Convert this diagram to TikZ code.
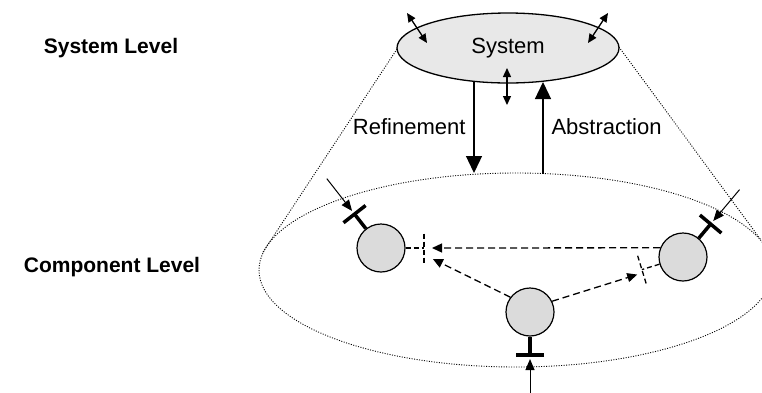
\documentclass[tikz,border=0pt]{standalone}
\usepackage{fontspec}
\setmainfont{Liberation Sans}
\usetikzlibrary{arrows.meta,shapes.geometric,calc}

\tikzset{
	sysnode/.style={ellipse, draw, line width=1.3pt, fill=gray!18, inner sep=0pt,
		minimum width=222pt, minimum height=70pt, font=\fontsize{22}{26}\selectfont},
	levelnode/.style={ellipse, draw, line width=0.9pt, dash pattern=on 1pt off 1.5pt,
		inner sep=0pt, minimum width=514pt, minimum height=194pt},
	comp/.style={circle, draw, line width=1.2pt, fill=gray!28, minimum size=48pt, inner sep=0pt},
	lbl/.style={font=\fontsize{22}{26}\selectfont},
	levellabel/.style={font=\fontsize{21}{25}\selectfont\bfseries},
	cone/.style={line width=0.9pt, dash pattern=on 1pt off 1.5pt},
	io/.style={{Triangle[length=9pt,width=8pt]}-{Triangle[length=9pt,width=8pt]}, line width=1.3pt},
	flow/.style={-{Triangle[length=17pt,width=16pt]}, line width=1.3pt},
	stem/.style={line width=3.5pt},
	inarr/.style={-{Triangle[length=11pt,width=9pt]}, line width=1pt},
	msg/.style={-{Triangle[length=10pt,width=9pt]}, line width=1.3pt, dash pattern=on 7pt off 4pt},
	rcv/.style={line width=1.3pt, dash pattern=on 5pt off 3pt},
}

\begin{document}
\begin{tikzpicture}[x=1pt, y=1pt]
	\clip (0,0) rectangle (762,-392);

	% levels
	\node[levellabel] (sysLevel) at (111,-48) {System Level};
	\node[levellabel] (compLevel) at (112,-267) {Component Level};

	% component level and the cone
	\node[levelnode] (lvl) at (516,-270) {};
	\draw[cone] (397,-49) -- (lvl.176);
	\draw[cone] (619,-47) -- (lvl.7);
	\node[sysnode] (sys) at (508,-48) {System};

	% system interfaces
	\coordinate (ioA1) at (407,-13);
	\coordinate (ioA2) at (427,-43);
	\coordinate (ioB1) at (608,-13);
	\coordinate (ioB2) at (588,-43);
	\coordinate (ioC1) at (507,-68);
	\coordinate (ioC2) at (507,-105);
	\draw[io] (ioA1) -- (ioA2);
	\draw[io] (ioB1) -- (ioB2);
	\draw[io] (ioC1) -- (ioC2);

	% refinement / abstraction
	\coordinate (refTop) at (474,-81);
	\coordinate (refBot) at (474,-173);
	\coordinate (absTop) at (543,-82);
	\coordinate (absBot) at (543,-174);
	\draw[flow] (refTop) -- (refBot);
	\draw[flow] (absBot) -- (absTop);
	\node[lbl, anchor=east] (refText) at (469,-127) {Refinement};
	\node[lbl, anchor=west] (absText) at (548,-127) {Abstraction};

	% components
	\node[comp] (cL) at (381,-248) {};
	\node[comp] (cR) at (683,-257) {};
	\node[comp] (cB) at (530,-312) {};

	% provided ports with their inputs
	\foreach \c/\a in {cL/128, cR/50, cB/270} {
		\draw[stem] (\c.\a) -- ($(\c)+(\a:43)$) coordinate (\c-p);
		\draw[stem] ($(\c-p)+(\a+90:14)$) -- ($(\c-p)+(\a-90:14)$);
		\draw[inarr] ($(\c)+(\a:88)$) -- ($(\c)+(\a:47)$);
	}

	% required ports
	\foreach \c/\a in {cL/0, cR/197} {
		\draw[rcv] (\c.\a) -- ($(\c)+(\a:43)$) coordinate (\c-q);
		\draw[rcv] ($(\c-q)+(\a+90:14.5)$) -- ($(\c-q)+(\a-90:14.5)$);
	}

	% messages
	\coordinate (inL1) at ($(cL)+(0:51)$);
	\coordinate (inL2) at ($(cL)+(-12:53)$);
	\coordinate (inR) at ($(cR)+(201:49)$);
	\draw[msg] (cR.158) -- (inL1);
	\draw[msg] (cB.143) -- (inL2);
	\draw[msg] (cB.26) -- (inR);
\end{tikzpicture}
\end{document}
